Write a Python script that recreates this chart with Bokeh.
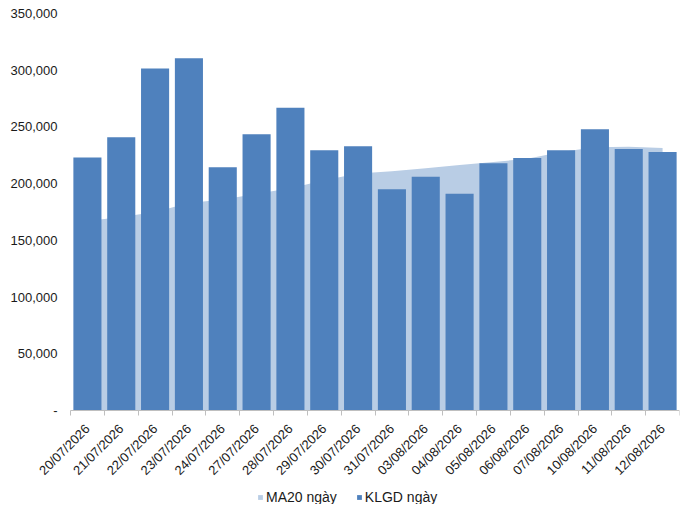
import math
from bokeh.plotting import figure
from bokeh.models import (ColumnDataSource, FixedTicker, NumeralTickFormatter,
                          Range1d, Legend, LegendItem)
from bokeh.embed import file_html
from bokeh.resources import INLINE

dates = ["20/07/2026", "21/07/2026", "22/07/2026", "23/07/2026", "24/07/2026",
         "27/07/2026", "28/07/2026", "29/07/2026", "30/07/2026", "31/07/2026",
         "03/08/2026", "04/08/2026", "05/08/2026", "06/08/2026", "07/08/2026",
         "10/08/2026", "11/08/2026", "12/08/2026"]
klgd = [223000, 241000, 301500, 310500, 214500, 243500, 267000, 229500, 233000,
        195000, 206000, 191000, 218000, 222500, 229500, 248000, 230500, 228000]
ma20 = [167000, 170500, 175000, 183000, 186000, 191000, 196000, 203000, 209000,
        211000, 213500, 216500, 219000, 222000, 228000, 232000, 232500, 231500]
y_ticks = [0, 50000, 100000, 150000, 200000, 250000, 300000, 350000]

idx = list(range(len(dates)))
src = ColumnDataSource(dict(x=idx, klgd=klgd, ma20=ma20, zero=[0] * len(idx)))

FONT = "Liberation Sans"
TXT = "#1a1a1a"

# Layout in pixels: the category axis spans 609 px with 70 px on its left for
# the value labels; the value axis spans 397 px with 13 px above it and 94 px
# below zero for the rotated date labels and the legend.
N = len(dates)
CAT_PX, LEFT_PX = 609, 70
Y_MAX = y_ticks[-1]
PLOT_PX, TOP_PX, BELOW_PX = 397, 13, 94
x_min = -0.5 - LEFT_PX * N / CAT_PX
y_min = -Y_MAX * BELOW_PX / PLOT_PX
y_top = Y_MAX + Y_MAX * TOP_PX / PLOT_PX

p = figure(frame_width=CAT_PX + LEFT_PX, frame_height=PLOT_PX + BELOW_PX + TOP_PX,
           output_backend="svg", toolbar_location=None,
           x_range=Range1d(x_min, N - 0.5), y_range=Range1d(y_min, y_top),
           min_border_left=0, min_border_top=0, min_border_right=9,
           min_border_bottom=0)
p.outline_line_color = None
p.xgrid.visible = False
p.ygrid.visible = False
p.background_fill_color = "white"
p.border_fill_color = "white"

area = p.varea(x="x", y1="zero", y2="ma20", source=src, color="#B9CDE5")
bars = p.vbar(x="x", top="klgd", width=0.83, source=src, color="#4F81BD",
              line_color=None)

xa = p.xaxis[0]
xa.fixed_location = 0
xa.bounds = (-0.5, N - 0.5)
xa.ticker = FixedTicker(ticks=idx, minor_ticks=[i - 0.5 for i in range(N + 1)])
xa.major_label_overrides = {i: d for i, d in enumerate(dates)}
xa.major_label_orientation = math.pi / 4
xa.major_tick_line_color = None
xa.major_tick_out = 0
xa.major_tick_in = 0
xa.minor_tick_line_color = "#BFBFBF"
xa.minor_tick_out = 5
xa.minor_tick_in = 0
xa.axis_line_color = "#BFBFBF"
xa.major_label_standoff = 11
xa.major_label_text_font = FONT
xa.major_label_text_font_size = "13px"
xa.major_label_text_color = TXT

ya = p.yaxis[0]
ya.fixed_location = -0.5
ya.bounds = (0, Y_MAX)
ya.ticker = FixedTicker(ticks=y_ticks)
ya.formatter = NumeralTickFormatter(format="0,0")
ya.major_label_overrides = {0: "-"}
ya.axis_line_color = None
ya.major_tick_line_color = None
ya.major_tick_out = 0
ya.major_tick_in = 0
ya.minor_tick_line_color = None
ya.minor_tick_out = 0
ya.major_label_standoff = 13
ya.major_label_text_font = FONT
ya.major_label_text_font_size = "13px"
ya.major_label_text_color = TXT

legend = Legend(items=[LegendItem(label="MA20 ngày", renderers=[area]),
                       LegendItem(label="KLGD ngày", renderers=[bars])],
                orientation="horizontal", location=(257, -1))
legend.glyph_width = 6
legend.glyph_height = 6
legend.label_standoff = 3
legend.spacing = 19
legend.padding = 0
legend.margin = 0
legend.label_height = 14
legend.label_text_font = FONT
legend.label_text_font_size = "14px"
legend.label_text_color = TXT
legend.border_line_color = None
legend.background_fill_alpha = 0
p.add_layout(legend, "center")

open("out.html", "w").write(file_html(p, INLINE))
